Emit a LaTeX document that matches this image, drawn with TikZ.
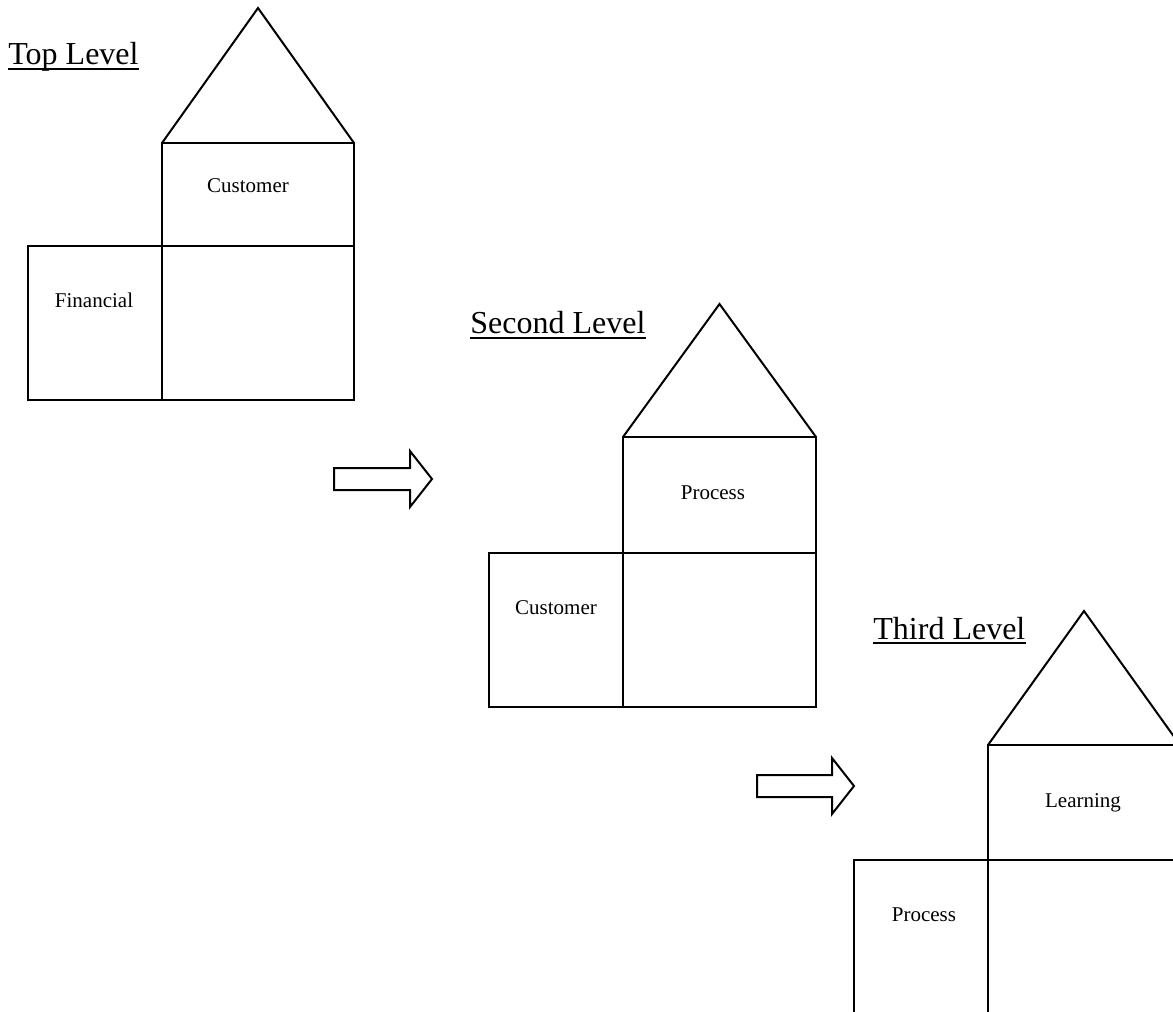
\documentclass[tikz,border=0pt]{standalone}
\usepackage{fontspec}
\setmainfont{Liberation Serif}
\usepackage{tikz}
\usetikzlibrary{positioning}

\begin{document}
\begin{tikzpicture}[
    x=0.5pt, y=-0.5pt,
    node distance=0pt,
    room/.style={rectangle, draw, line width=1pt, inner sep=0pt, outer sep=0pt},
    roof/.style={draw, line width=1pt, line join=miter},
    lbl/.style={anchor=base, inner sep=0pt, font=\fontsize{10.5}{12}\selectfont},
    title/.style={anchor=base west, inner sep=0pt, font=\fontsize{16}{19}\selectfont},
    uline/.style={line width=1pt},
    blockarrow/.style={draw, line width=1pt, line join=miter}
]
\path[use as bounding box] (0,0) rectangle (1173,1012);
\clip (0,0) rectangle (1173,1012);

% Top level
\node[title] (top) at (8,64) {Top Level};
\draw[uline] ([yshift=-2.5pt]top.base west) -- ([yshift=-2.5pt]top.base east);
\coordinate (apex1) at (258,8);
\node[room, minimum width=96pt, minimum height=51.5pt] (up1) at (258,194.5) {};
\node[room, minimum width=96pt, minimum height=77pt, below=of up1] (lr1) {};
\node[room, minimum width=67pt, minimum height=77pt, left=of lr1] (lf1) {};
\draw[roof] (up1.north west) -- (apex1) -- (up1.north east);
\node[lbl] (cust1) at (248,192) {Customer};
\node[lbl] (fin1) at (94,307) {Financial};

% Arrow to second level
\coordinate (arr1) at (334,468);
\draw[blockarrow] (arr1) -- ++(76,0) -- ++(0,-17) -- ++(22,28) -- ++(-22,28)
    -- ++(0,-17) -- ++(-76,0) -- cycle;

% Second level
\node[title] (second) at (470,333) {Second Level};
\draw[uline] ([yshift=-2.5pt]second.base west) -- ([yshift=-2.5pt]second.base east);
\coordinate (apex2) at (719.5,304);
\node[room, minimum width=96.5pt, minimum height=58pt] (up2) at (719.5,495) {};
\node[room, minimum width=96.5pt, minimum height=77pt, below=of up2] (lr2) {};
\node[room, minimum width=67pt, minimum height=77pt, left=of lr2] (lf2) {};
\draw[roof] (up2.north west) -- (apex2) -- (up2.north east);
\node[lbl] (proc2) at (713,499) {Process};
\node[lbl] (cust2) at (556,614) {Customer};

% Arrow to third level
\coordinate (arr2) at (757,775);
\draw[blockarrow] (arr2) -- ++(75,0) -- ++(0,-17) -- ++(22,28) -- ++(-22,28)
    -- ++(0,-17) -- ++(-75,0) -- cycle;

% Third level
\node[title] (third) at (873,639) {Third Level};
\draw[uline] ([yshift=-2pt]third.base west) -- ([yshift=-2pt]third.base east);
\coordinate (apex3) at (1084,611);
\node[room, minimum width=96pt, minimum height=57.5pt] (up3) at (1084,802.5) {};
\node[room, minimum width=96pt, minimum height=77pt, below=of up3] (lr3) {};
\node[room, minimum width=67pt, minimum height=77pt, left=of lr3] (lf3) {};
\draw[roof] (up3.north west) -- (apex3) -- (up3.north east);
\node[lbl] (learn3) at (1083,807) {Learning};
\node[lbl] (proc3) at (924,921) {Process};

\end{tikzpicture}
\end{document}
